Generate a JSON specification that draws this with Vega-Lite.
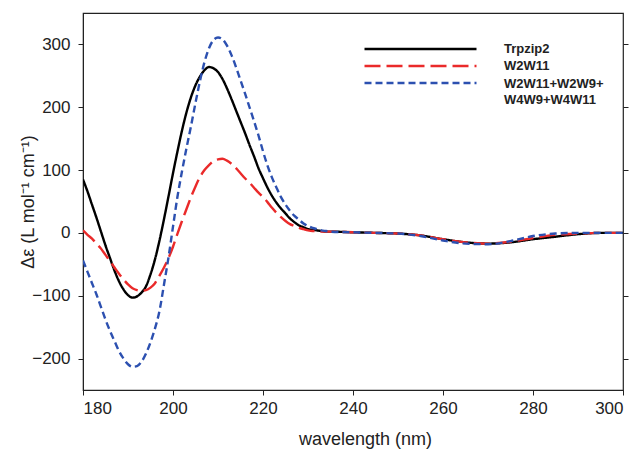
{
  "$schema": "https://vega.github.io/schema/vega-lite/v6.json",
  "width": 540,
  "height": 377,
  "autosize": {"type": "none"},
  "padding": {"left": 83, "top": 13, "right": 16, "bottom": 65},
  "background": "white",
  "config": {
    "font": "Liberation Sans",
    "view": {"stroke": "#222222", "strokeWidth": 1.2},
    "axis": {"grid": false, "domainColor": "#222222", "tickColor": "#222222", "labelColor": "#222222", "titleColor": "#222222", "labelFont": "Liberation Sans", "titleFont": "Liberation Sans", "titleFontWeight": "normal", "labelFontSize": 17, "titleFontSize": 17, "tickSize": 5}
  },
  "data": {
    "values": [
      {"w":180,"a":85,"b":4,"c":-44},
      {"w":181,"a":66,"b":-3,"c":-62},
      {"w":182,"a":45,"b":-9,"c":-80},
      {"w":183,"a":24,"b":-17,"c":-98},
      {"w":184,"a":2,"b":-25,"c":-118},
      {"w":185,"a":-20,"b":-35,"c":-138},
      {"w":186,"a":-40,"b":-45,"c":-156},
      {"w":187,"a":-60,"b":-55,"c":-172},
      {"w":188,"a":-77,"b":-65,"c":-188},
      {"w":189,"a":-90,"b":-74,"c":-200},
      {"w":190,"a":-99,"b":-82,"c":-209},
      {"w":191,"a":-103,"b":-88,"c":-213},
      {"w":192,"a":-101,"b":-91,"c":-212},
      {"w":193,"a":-95,"b":-92,"c":-205},
      {"w":194,"a":-85,"b":-91,"c":-192},
      {"w":195,"a":-66,"b":-87,"c":-174},
      {"w":196,"a":-42,"b":-80,"c":-152},
      {"w":197,"a":-12,"b":-68,"c":-124},
      {"w":198,"a":22,"b":-55,"c":-82},
      {"w":199,"a":58,"b":-40,"c":-39},
      {"w":200,"a":95,"b":-22,"c":10},
      {"w":201,"a":130,"b":-1,"c":58},
      {"w":202,"a":163,"b":19,"c":98},
      {"w":203,"a":192,"b":38,"c":135},
      {"w":204,"a":216,"b":57,"c":170},
      {"w":205,"a":235,"b":74,"c":207},
      {"w":206,"a":249,"b":89,"c":242},
      {"w":207,"a":259,"b":100,"c":272},
      {"w":208,"a":264,"b":108,"c":294},
      {"w":209,"a":262,"b":114,"c":307},
      {"w":210,"a":256,"b":117,"c":311},
      {"w":211,"a":245,"b":118,"c":308},
      {"w":212,"a":230,"b":115,"c":298},
      {"w":213,"a":213,"b":110,"c":283},
      {"w":214,"a":195,"b":103,"c":264},
      {"w":215,"a":177,"b":95,"c":243},
      {"w":216,"a":159,"b":87,"c":222},
      {"w":217,"a":140,"b":80,"c":200},
      {"w":218,"a":122,"b":72,"c":178},
      {"w":219,"a":103,"b":64,"c":155},
      {"w":220,"a":87,"b":57,"c":130},
      {"w":221,"a":72,"b":49,"c":107},
      {"w":222,"a":59,"b":40,"c":88},
      {"w":223,"a":48,"b":32,"c":72},
      {"w":224,"a":39,"b":25,"c":57},
      {"w":225,"a":31,"b":19,"c":45},
      {"w":226,"a":23,"b":14,"c":35},
      {"w":227,"a":17,"b":11,"c":27},
      {"w":228,"a":12,"b":8,"c":21},
      {"w":229,"a":9,"b":6,"c":15},
      {"w":230,"a":6,"b":4,"c":11},
      {"w":231,"a":5,"b":3,"c":8},
      {"w":232,"a":4,"b":3,"c":6},
      {"w":233,"a":3,"b":2,"c":4},
      {"w":234,"a":2,"b":2,"c":3},
      {"w":235,"a":2,"b":2,"c":2},
      {"w":240,"a":1,"b":1,"c":1},
      {"w":245,"a":0,"b":0,"c":0},
      {"w":250,"a":-1,"b":-1,"c":-1},
      {"w":255,"a":-4,"b":-4,"c":-5},
      {"w":260,"a":-10,"b":-10,"c":-12},
      {"w":265,"a":-15,"b":-15,"c":-17},
      {"w":270,"a":-17,"b":-17,"c":-18},
      {"w":275,"a":-15,"b":-14,"c":-13},
      {"w":280,"a":-10,"b":-8,"c":-5},
      {"w":285,"a":-6,"b":-3,"c":-1},
      {"w":290,"a":-2,"b":-1,"c":0},
      {"w":295,"a":0,"b":0,"c":0},
      {"w":300,"a":0,"b":0,"c":0}
    ]
  },
  "transform": [
    {"fold": ["a", "b", "c"], "as": ["key", "v"]},
    {"lookup": "key", "from": {"data": {"values": [
      {"key": "a", "s": "Trpzip2"},
      {"key": "b", "s": "W2W11"},
      {"key": "c", "s": "W2W11+W2W9+W4W9+W4W11"}
    ]}, "key": "key", "fields": ["s"]}}
  ],
  "layer": [
    {
      "mark": {"type": "line", "interpolate": "monotone", "strokeWidth": 2.4, "clip": true},
      "encoding": {
        "x": {"field": "w", "type": "quantitative", "scale": {"domain": [180, 300], "nice": false, "zero": false},
              "axis": {"values": [180, 200, 220, 240, 260, 280, 300], "title": "wavelength (nm)", "labelPadding": 5, "titlePadding": 14, "titleFontSize": 18, "titleX": 282, "titleAlign": "center", "titleAnchor": null}},
        "y": {"field": "v", "type": "quantitative", "scale": {"domain": [-250, 350], "nice": false},
              "axis": {"values": [-200, -100, 0, 100, 200, 300], "title": "Δε (L mol⁻¹ cm⁻¹)", "titleFontSize": 18, "labelPadding": 8, "titlePadding": -6}},
        "color": {"field": "s", "type": "nominal",
          "scale": {"domain": ["Trpzip2", "W2W11", "W2W11+W2W9+W4W9+W4W11"], "range": ["#000000", "#ea2a2a", "#2c50b0"]},
          "legend": {
            "title": null, "orient": "none", "legendX": 280, "legendY": 28,
            "symbolType": "stroke", "symbolSize": 12544, "symbolStrokeWidth": 2.4, "clipHeight": 16,
            "labelFont": "Liberation Sans", "labelFontWeight": "bold", "labelFontSize": 13, "labelColor": "#222222",
            "labelOffset": 26, "rowPadding": 1,
            "labelExpr": "datum.label == 'W2W11+W2W9+W4W9+W4W11' ? ['W2W11+W2W9+', 'W4W9+W4W11'] : datum.label",
            "encode": {"labels": {"update": {"lineHeight": {"value": 16}, "dy": {"signal": "datum.label == 'W2W11+W2W9+W4W9+W4W11' ? 1 : 0"}}}}
          }},
        "strokeDash": {"field": "s", "type": "nominal",
          "scale": {"domain": ["Trpzip2", "W2W11", "W2W11+W2W9+W4W9+W4W11"], "range": [[1, 0], [16, 6], [7, 4]]},
          "legend": null}
      }
    },
    {
      "mark": {"type": "rule", "opacity": 0},
      "encoding": {
        "y": {"datum": 0, "type": "quantitative", "scale": {"domain": [-250, 350], "nice": false},
              "axis": {"orient": "right", "values": [-200, -100, 0, 100, 200, 300], "labels": false, "title": null, "domain": false}}
      }
    }
  ],
  "resolve": {"axis": {"y": "independent"}}
}
